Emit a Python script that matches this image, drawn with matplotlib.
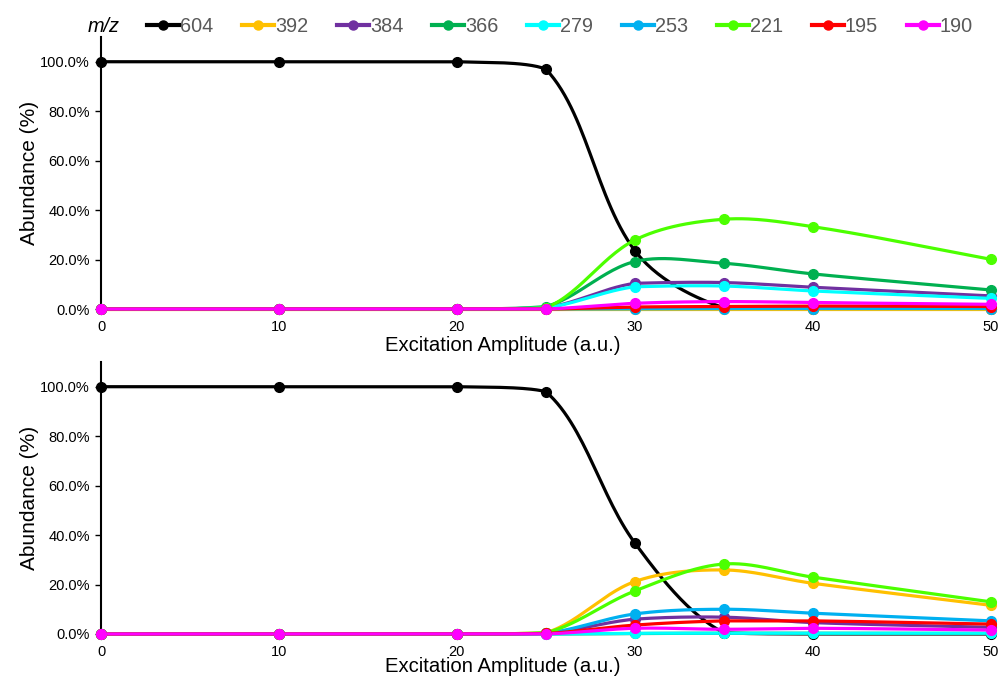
import numpy as np
import matplotlib.pyplot as plt
from matplotlib.lines import Line2D
from matplotlib.ticker import FuncFormatter

plt.rcParams['font.family'] = ['Liberation Sans', 'DejaVu Sans']

x = [0, 10, 20, 25, 30, 35, 40, 50]
labels = ['604', '392', '384', '366', '279', '253', '221', '195', '190']
colors = ['#000000', '#FFC000', '#7030A0', '#00B050', '#00FFFF',
          '#00B0F0', '#4CFF00', '#FF0000', '#FF00FF']

# top panel (%)
top = {
    '604': [100, 100, 100, 97, 23.6, 0.5, 0, 0],
    '392': [0, 0, 0, 0, 0, 0, 0, 0],
    '384': [0, 0, 0, 0.5, 10.4, 10.7, 8.8, 5.3],
    '366': [0, 0, 0, 1.0, 19.2, 18.5, 14.2, 7.7],
    '279': [0, 0, 0, 0.5, 9.0, 9.3, 7.3, 4.3],
    '253': [0, 0, 0, 0, 0.1, 0.2, 0.2, 0.2],
    '221': [0, 0, 0, 0.5, 27.9, 36.3, 33.3, 20.1],
    '195': [0, 0, 0, 0, 0.8, 1.0, 1.2, 1.0],
    '190': [0, 0, 0, 0, 2.3, 3.0, 2.6, 1.9],
}
# bottom panel (%)
bottom = {
    '604': [100, 100, 100, 98, 36.8, 0.5, 0, 0],
    '392': [0, 0, 0, 0.5, 21.2, 25.9, 20.5, 11.6],
    '384': [0, 0, 0, 0.2, 6.0, 6.8, 4.6, 2.7],
    '366': [0, 0, 0, 0, 0.2, 0.3, 0.3, 0.2],
    '279': [0, 0, 0, 0, 0.3, 0.3, 0.3, 0.3],
    '253': [0, 0, 0, 0.3, 8.1, 10.0, 8.4, 5.3],
    '221': [0, 0, 0, 0.5, 17.4, 28.3, 23.0, 13.0],
    '195': [0, 0, 0, 0.2, 3.6, 5.3, 5.3, 4.0],
    '190': [0, 0, 0, 0, 2.3, 1.9, 2.3, 1.6],
}


def smooth(xs, ys, sx=17.8, sy=2.47, n=30):
    # smoothed line like Excel: cubic Bezier pieces in screen scale.
    # at points that are not a peak/valley the control points stay inside
    # the segment's y range, so flat parts don't bulge
    P = np.column_stack([np.array(xs) * sx, np.array(ys) * sy])
    P = np.vstack([P[0], P, P[-1]])
    L = np.linalg.norm(np.diff(P, axis=0), axis=1)
    y = P[:, 1]
    mono = [True] + [(y[j] - y[j - 1]) * (y[j + 1] - y[j]) >= 0
                     for j in range(1, len(P) - 1)] + [True]
    t = np.linspace(0, 1, n)[:, None]
    out = []
    for i in range(1, len(P) - 2):
        p0, p3 = P[i], P[i + 1]
        m0 = P[i + 1] - P[i - 1]
        m1 = P[i + 2] - P[i]
        w0 = L[i] / (L[i - 1] + L[i])
        w1 = L[i] / (L[i] + L[i + 1])
        p1 = p0 + m0 * w0 / 3
        p2 = p3 - m1 * w1 / 3
        lo, hi = min(p0[1], p3[1]), max(p0[1], p3[1])
        if mono[i]:
            p1[1] = np.clip(p1[1], lo, hi)
        if mono[i + 1]:
            p2[1] = np.clip(p2[1], lo, hi)
        seg = ((1 - t) ** 3) * p0 + 3 * ((1 - t) ** 2) * t * p1 \
            + 3 * (1 - t) * t ** 2 * p2 + t ** 3 * p3
        out.append(seg)
    out = np.vstack(out)
    return out[:, 0] / sx, out[:, 1] / sy


fig = plt.figure(figsize=(10.02, 6.79), dpi=100)
ax1 = fig.add_axes([0.1008, 0.5449, 0.888, 0.4006])
ax2 = fig.add_axes([0.1008, 0.0663, 0.888, 0.4006])

for ax, data, xl_y in [(ax1, top, -0.1), (ax2, bottom, -0.085)]:
    for lab, c in zip(labels, colors):
        xs, ys = smooth(x, data[lab])
        ax.plot(xs, np.array(ys) / 100, color=c, lw=2.3, clip_on=False,
                solid_capstyle='round')
        ax.plot(x, np.array(data[lab]) / 100, 'o', color=c, ms=7,
                clip_on=False, zorder=3)
    ax.set_xlim(0, 50)
    ax.set_ylim(0, 1.1)
    ax.set_xticks([0, 10, 20, 30, 40, 50])
    ax.set_yticks([0, 0.2, 0.4, 0.6, 0.8, 1.0])
    ax.yaxis.set_major_formatter(FuncFormatter(lambda v, p: f'{v * 100:.1f}%'))
    for s in ['top', 'right', 'bottom']:
        ax.spines[s].set_visible(False)
    ax.spines['left'].set_linewidth(1.5)
    ax.tick_params(axis='y', length=4, width=1, labelsize=10.5, pad=4)
    ax.tick_params(axis='x', length=0, labelsize=10.5, pad=8)
    ax.set_ylabel('Abundance (%)', fontsize=15)
    ax.yaxis.set_label_coords(-0.07, 0.5)
    ax.set_xlabel('Excitation Amplitude (a.u.)', fontsize=14.6)
    ax.xaxis.set_label_coords(0.4517, xl_y)

handles = [Line2D([], [], color=c, lw=3, marker='o', ms=6.5) for c in colors]
leg = fig.legend(handles, labels, loc='center left', bbox_to_anchor=(0.1467, 0.9617),
                 ncol=9, frameon=False, fontsize=14.3, handlelength=1.62,
                 handletextpad=0.05, columnspacing=1.44, labelcolor='#595959',
                 borderpad=0, borderaxespad=0)
fig.text(0.0878, 0.9617, 'm/z', fontsize=14.3, style='italic', va='center')

fig.savefig('out.png', dpi=100)
